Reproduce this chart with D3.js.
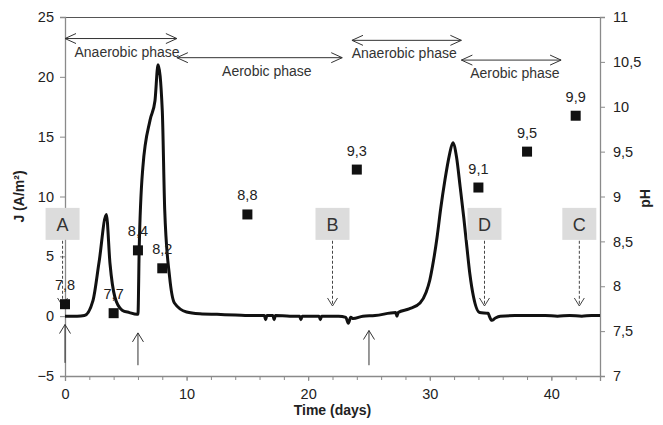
<!DOCTYPE html>
<html>
<head>
<meta charset="utf-8">
<script src="https://cdn.jsdelivr.net/npm/d3@7"></script>
<style>
  body { margin: 0; background: #fff; }
  svg text { font-family: "Liberation Sans", Arial, sans-serif; }
</style>
</head>
<body>
<div id="chart"></div>
<script>
// current density J (A/m2) versus time (days)
var timeDays = [0, 0.5, 1, 1.6, 2.3, 2.8, 3.4, 3.7, 4.1, 4.7, 5.3, 5.9, 6.0, 6.1, 6.4, 7.0, 7.4, 7.65, 8.0, 8.2, 8.6, 9.0, 10, 11.1, 12.5, 14, 15.5,
  16.4, 16.5, 16.6, 17.1, 17.2, 17.3, 18.5, 19.3, 19.4, 19.5, 20.9, 21.0, 21.1, 22.5, 23.1, 23.3, 23.5, 23.7, 24.5, 25.5,
  27.2, 27.3, 27.4, 28.3, 29.2, 29.7, 30.0, 30.3, 30.6, 30.9, 31.25, 31.6, 31.9, 32.2, 32.5, 32.8, 33.05, 33.3, 33.6, 34.1, 34.8, 34.9, 35.1, 35.4, 35.8,
  37, 38.5, 39.5, 40.5, 41.5, 42.5, 43.3, 44];
var currentJ = [0, 0, 0, 0.05, 1.3, 4.5, 8.5, 4.4, 1.6, 0.5, 0.3, 0.15, 0.15, 5.5, 12.4, 16.4, 18, 21, 17.2, 8.9, 3.3, 1.1, 0.35, 0.2, 0.15, 0.1, 0.05,
  0.05, -0.3, 0.05, 0.05, -0.3, 0.05, 0.0, 0.0, -0.3, 0.0, 0.0, -0.3, 0.0, 0.0, -0.1, -0.6, -0.1, -0.2, 0.0, 0.05,
  0.3, 0.0, 0.3, 0.6, 1.1, 2.0, 3.0, 4.6, 6.6, 9.0, 11.4, 13.4, 14.5, 13.3, 10.8, 8.2, 5.8, 3.5, 1.6, 0.3, 0.25, 0.0, -0.35, -0.15, 0.0,
  0.05, 0.05, 0.05, 0.0, 0.05, 0.0, 0.05, 0.05];

// pH measurements
var phDays = [0, 4, 6, 8, 15, 24, 34, 38, 42];
var phValues = [7.8, 7.7, 8.4, 8.2, 8.8, 9.3, 9.1, 9.5, 9.9];
var phLabels = ['7,8', '7,7', '8,4', '8,2', '8,8', '9,3', '9,1', '9,5', '9,9'];

// phases (start day, end day, level in J units, label centre day)
var phaseNames = ['Anaerobic phase', 'Aerobic phase', 'Anaerobic phase', 'Aerobic phase'];
var phaseStart = [0, 9.2, 23.6, 32.6];
var phaseEnd = [9.2, 22.8, 32.6, 40.8];
var phaseLevel = [23.2, 21.6, 23.05, 21.4];
var phaseLabelDay = [5.1, 16.6, 27.9, 37.0];

// sampling points
var sampleNames = ['A', 'B', 'D', 'C'];
var sampleDays = [-0.2, 22, 34.5, 42.3];

// feeding arrows
var feedDays = [0, 6, 25];
var feedTop = [-0.7, -1.4, -1.2];

var xTicks = [0, 10, 20, 30, 40];
var xMinor = d3.range(0, 45, 2);
var yTicks = [-5, 0, 5, 10, 15, 20, 25];
var phTicks = [7, 7.5, 8, 8.5, 9, 9.5, 10, 10.5, 11];

var width = 663, height = 425;
var plotLeft = 65, plotRight = 600, plotTop = 17, plotBottom = 376;
var axisColor = '#8a8a8a', textColor = '#222';

var x = d3.scaleLinear().domain([0, 44]).range([plotLeft, plotRight]);
var y = d3.scaleLinear().domain([-5, 25]).range([plotBottom, plotTop]);
var yPh = d3.scaleLinear().domain([7, 11]).range([plotBottom, plotTop]);
var commaFmt = function (d) { return String(d).replace('.', ','); };

var svg = d3.select('#chart').append('svg')
  .attr('width', width)
  .attr('height', height);

// frame
svg.append('line')
  .attr('x1', plotLeft).attr('x2', plotRight)
  .attr('y1', plotTop + 0.5).attr('y2', plotTop + 0.5)
  .attr('stroke', '#555');

svg.append('g').attr('transform', 'translate(0,' + plotBottom + ')')
  .call(d3.axisBottom(x).tickValues(xTicks).tickSize(5).tickPadding(8));
svg.append('g').attr('transform', 'translate(0,' + plotBottom + ')')
  .call(d3.axisBottom(x).tickValues(xMinor).tickSize(4).tickFormat(''))
  .call(function (g) { g.select('.domain').remove(); });
svg.append('g').attr('transform', 'translate(' + plotLeft + ',0)')
  .call(d3.axisLeft(y).tickValues(yTicks).tickSize(5).tickPadding(6));
svg.append('g').attr('transform', 'translate(' + plotRight + ',0)')
  .call(d3.axisRight(yPh).tickValues(phTicks).tickSize(5).tickPadding(8).tickFormat(commaFmt));

svg.selectAll('.domain').attr('stroke', axisColor).attr('stroke-width', 1.3);
svg.selectAll('.tick line').attr('stroke', axisColor);
svg.selectAll('.tick text')
  .attr('fill', textColor)
  .style('font-size', '14.5px')
  .style('font-family', '"Liberation Sans", Arial, sans-serif');

// axis titles
svg.append('text')
  .attr('transform', 'translate(24,' + (plotTop + plotBottom) / 2 + ') rotate(-90)')
  .attr('text-anchor', 'middle')
  .attr('font-weight', 'bold').attr('font-size', 14).attr('fill', textColor)
  .text('J (A/m²)');
svg.append('text')
  .attr('transform', 'translate(650,' + ((plotTop + plotBottom) / 2 + 2) + ') rotate(-90)')
  .attr('text-anchor', 'middle')
  .attr('font-weight', 'bold').attr('font-size', 14).attr('fill', textColor)
  .text('pH');
svg.append('text')
  .attr('x', (plotLeft + plotRight) / 2).attr('y', 415)
  .attr('text-anchor', 'middle')
  .attr('font-weight', 'bold').attr('font-size', 14).attr('fill', textColor)
  .text('Time (days)');

// open arrow head path helper
function headPath(px, py, dir, len, half) {
  // dir: unit vector of pointing direction
  var bx = px - dir[0] * len, by = py - dir[1] * len;
  var nx = -dir[1] * half, ny = dir[0] * half;
  return 'M' + (bx + nx) + ',' + (by + ny) + 'L' + px + ',' + py + 'L' + (bx - nx) + ',' + (by - ny);
}

// phase arrows
var phases = phaseNames.map(function (n, i) {
  return { name: n, t0: phaseStart[i], t1: phaseEnd[i], level: phaseLevel[i], tl: phaseLabelDay[i] };
});
var phg = svg.append('g').selectAll('g')
  .data(phases)
  .enter().append('g');
phg.append('line')
  .attr('x1', function (d) { return x(d.t0); })
  .attr('x2', function (d) { return x(d.t1); })
  .attr('y1', function (d) { return y(d.level); })
  .attr('y2', function (d) { return y(d.level); })
  .attr('stroke', '#333').attr('stroke-width', 1);
phg.append('path')
  .attr('d', function (d) {
    var yy = y(d.level);
    return headPath(x(d.t0), yy, [-1, 0], 11, 5) + headPath(x(d.t1), yy, [1, 0], 11, 5);
  })
  .attr('fill', 'none').attr('stroke', '#333').attr('stroke-width', 1);
phg.append('text')
  .attr('x', function (d) { return x(d.tl); })
  .attr('y', function (d) { return y(d.level) + 18; })
  .attr('text-anchor', 'middle')
  .attr('font-size', 14).attr('fill', '#333')
  .text(function (d) { return d.name; });

// feeding arrows
var feeds = feedDays.map(function (t, i) { return { t: t, top: feedTop[i] }; });
svg.append('g').selectAll('path')
  .data(feeds)
  .enter().append('path')
  .attr('d', function (d) {
    var xx = x(d.t), y0 = y(-3.9), y1 = y(d.top);
    if (d.t !== 0) y0 = y(-4.1);
    return 'M' + xx + ',' + y0 + 'L' + xx + ',' + y1 + headPath(xx, y1, [0, -1], 9, 5.5);
  })
  .attr('fill', 'none').attr('stroke', '#333').attr('stroke-width', 1);

// current density curve
var pts = timeDays.map(function (t, i) { return [t, currentJ[i]]; });
svg.append('path')
  .datum(pts)
  .attr('d', d3.line()
    .x(function (d) { return x(d[0]); })
    .y(function (d) { return y(d[1]); })
    .curve(d3.curveMonotoneX))
  .attr('fill', 'none')
  .attr('stroke', '#111')
  .attr('stroke-width', 3)
  .attr('stroke-linejoin', 'round');

// sampling boxes with dashed arrows
var samples = sampleNames.map(function (n, i) { return { name: n, t: sampleDays[i] }; });
var sg = svg.append('g').selectAll('g')
  .data(samples)
  .enter().append('g');
sg.append('line')
  .attr('x1', function (d) { return x(d.t); })
  .attr('x2', function (d) { return x(d.t); })
  .attr('y1', y(6.3)).attr('y2', y(0.85))
  .attr('stroke', '#444').attr('stroke-dasharray', '3,2');
sg.append('path')
  .attr('d', function (d) { return headPath(x(d.t), y(0.85), [0, 1], 8, 5); })
  .attr('fill', 'none').attr('stroke', '#444');
sg.append('rect')
  .attr('x', function (d) { return x(d.t) - 17; })
  .attr('y', y(9.05))
  .attr('width', 34).attr('height', 32)
  .attr('fill', '#dcdcdc');
sg.append('text')
  .attr('x', function (d) { return x(d.t); })
  .attr('y', y(9.05) + 23)
  .attr('text-anchor', 'middle')
  .attr('font-size', 18).attr('fill', '#333')
  .text(function (d) { return d.name; });

// pH points
var phPts = phDays.map(function (t, i) { return { t: t, v: phValues[i], label: phLabels[i] }; });
svg.append('g').selectAll('rect')
  .data(phPts)
  .enter().append('rect')
  .attr('x', function (d) { return x(d.t) - 5; })
  .attr('y', function (d) { return yPh(d.v) - 5; })
  .attr('width', 10).attr('height', 10)
  .attr('fill', '#111');
svg.append('g').selectAll('text')
  .data(phPts)
  .enter().append('text')
  .attr('x', function (d) { return x(d.t); })
  .attr('y', function (d) { return yPh(d.v) - 14; })
  .attr('text-anchor', 'middle')
  .attr('font-size', 14.5).attr('fill', '#222')
  .text(function (d) { return d.label; });
</script>
</body>
</html>
